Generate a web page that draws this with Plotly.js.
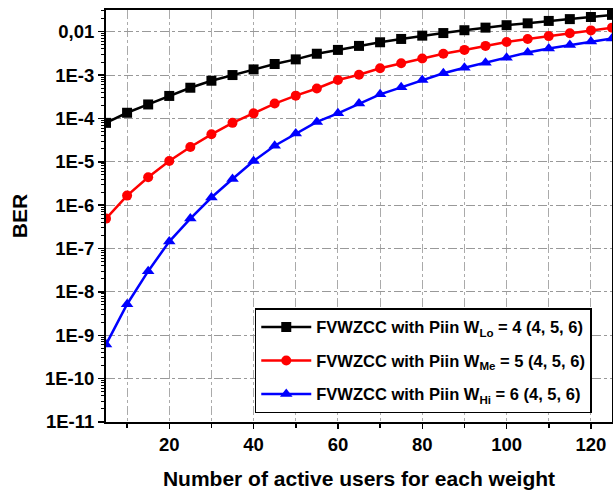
<!DOCTYPE html>
<html>
<head>
<meta charset="utf-8">
<script src="https://cdn.plot.ly/plotly-3.0.1.min.js"></script>
<style>html,body{margin:0;padding:0;background:#fff;}#chart{width:613px;height:490px;}</style>
</head>
<body>
<div id="chart"></div>
<script>
const users = [5,10,15,20,25,30,35,40,45,50,55,60,65,70,75,80,85,90,95,100,105,110,115,120,125];
const berLo = [7.9e-5,1.35e-4,2.1e-4,3.3e-4,5.1e-4,7.4e-4,1.0e-3,1.35e-3,1.8e-3,2.3e-3,3.1e-3,3.8e-3,4.7e-3,5.7e-3,6.8e-3,8.1e-3,9.3e-3,1.08e-2,1.24e-2,1.41e-2,1.56e-2,1.77e-2,1.95e-2,2.18e-2,2.44e-2];
const berMe = [4.9e-7,1.66e-6,4.4e-6,1.04e-5,2.2e-5,4.3e-5,7.9e-5,1.31e-4,2.2e-4,3.35e-4,4.9e-4,7.7e-4,1.02e-3,1.43e-3,1.87e-3,2.4e-3,3.1e-3,3.8e-3,4.7e-3,5.8e-3,6.8e-3,7.9e-3,9.2e-3,1.07e-2,1.24e-2];
const berHi = [6.1e-10,5.2e-9,3.0e-8,1.45e-7,4.9e-7,1.5e-6,4.0e-6,1.04e-5,2.35e-5,4.5e-5,8.3e-5,1.31e-4,2.2e-4,3.6e-4,5.2e-4,7.7e-4,1.1e-3,1.48e-3,1.93e-3,2.5e-3,3.3e-3,4.1e-3,4.9e-3,5.9e-3,7.0e-3];
const seriesNames = [
  "FVWZCC with Piin W<sub>Lo</sub> = 4 (4, 5, 6)",
  "FVWZCC with Piin W<sub>Me</sub> = 5 (4, 5, 6)",
  "FVWZCC with Piin W<sub>Hi</sub> = 6 (4, 5, 6)"
];
const yTickVals = [1e-11,1e-10,1e-9,1e-8,1e-7,1e-6,1e-5,1e-4,1e-3,1e-2];
const yTickText = ["1E-11","1E-10","1E-9","1E-8","1E-7","1E-6","1E-5","1E-4","1E-3","0,01"];
const xTitle = "Number of active users for each weight";
const yTitle = "BER";

const yMinor = [];
for (let d = -11; d <= -2; d++) {
  for (let k = 2; k <= 9; k++) {
    const v = k * Math.pow(10, d);
    if (v < 0.0316) yMinor.push(v);
  }
}

const colors = ["#000000", "#ff0000", "#0000ff"];
const symbols = ["square", "circle", "triangle-up"];
const sizes = [10, 10, 11];
const data = [berLo, berMe, berHi].map((ys, i) => ({
  x: users, y: ys, name: seriesNames[i], type: "scatter", mode: "lines+markers",
  legendgroup: "g" + i,
  line: {color: colors[i], width: 2.5},
  marker: {color: colors[i], symbol: symbols[i], size: sizes[i]}
}));

const FONT = "Liberation Sans, Arial, sans-serif";
const tickFont = {family: FONT, size: 18.5, color: "#000", weight: "bold"};
const layout = {
  width: 613, height: 490,
  margin: {l: 106, r: 1, t: 10, b: 68},
  paper_bgcolor: "#fff", plot_bgcolor: "#fff",
  showlegend: true,
  legend: {
    x: 0.294, y: 0.276, xanchor: "left", yanchor: "top",
    bgcolor: "#fff", bordercolor: "#000", borderwidth: 1.5,
    font: {family: FONT, size: 16.5, color: "#000", weight: "bold"},
    itemwidth: 50, tracegroupgap: 9, traceorder: "grouped"
  },
  xaxis: {
    range: [5, 125], tickmode: "linear", tick0: 0, dtick: 20,
    ticks: "outside", ticklen: 5, tickwidth: 1.5, tickcolor: "#000",
    showline: true, linecolor: "#000", linewidth: 2, mirror: true,
    showgrid: true, gridcolor: "#aaaaaa", gridwidth: 1, griddash: "dashdot",
    minor: {dtick: 10, tick0: 0, ticks: "outside", ticklen: 4, tickwidth: 1.5, tickcolor: "#000", showgrid: true, gridcolor: "#aaaaaa", griddash: "dashdot"},
    tickfont: tickFont, zeroline: false,
    title: {text: xTitle, font: {family: FONT, size: 21, color: "#000", weight: "bold"}, standoff: 17}
  },
  yaxis: {
    type: "log", range: [-11, -1.5],
    tickmode: "array", tickvals: yTickVals, ticktext: yTickText,
    ticks: "outside", ticklen: 6, tickwidth: 1.5, tickcolor: "#000",
    showline: true, linecolor: "#000", linewidth: 2, mirror: true,
    showgrid: true, gridcolor: "#999999", gridwidth: 1, griddash: "dashdot",
    minor: {tickmode: "array", tickvals: yMinor, ticks: "outside", ticklen: 3, tickwidth: 1, tickcolor: "#000", showgrid: false},
    tickfont: tickFont, zeroline: false,
    title: {text: yTitle, font: {family: FONT, size: 21, color: "#000", weight: "bold"}, standoff: 12}
  }
};
Plotly.newPlot("chart", data, layout, {displayModeBar: false, staticPlot: true});
</script>
</body>
</html>
